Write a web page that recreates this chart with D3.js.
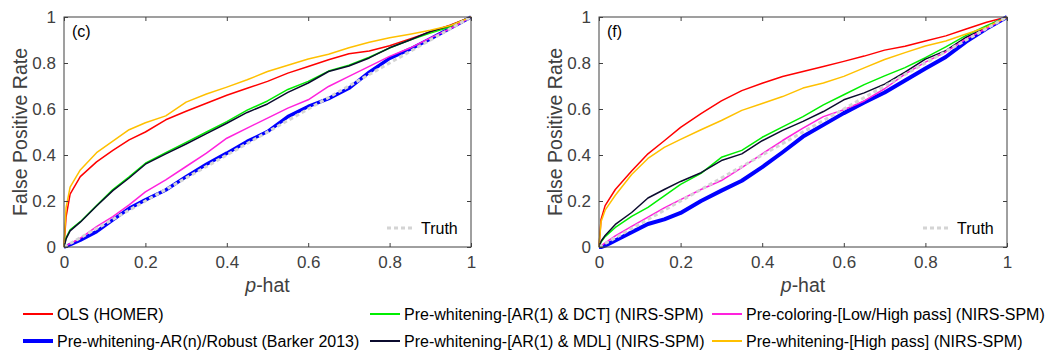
<!DOCTYPE html>
<html>
<head>
<meta charset="utf-8">
<script src="https://cdn.jsdelivr.net/npm/d3@7"></script>
<style>
  body { margin: 0; background: #fff; }
  svg { font-family: "Liberation Sans", Arial, sans-serif; }
</style>
</head>
<body>
<svg id="chart" width="1052" height="354"></svg>
<script>
// p-hat grid shared by all curves
const pHat = [0, 0.005, 0.015, 0.04, 0.08, 0.12, 0.16, 0.2, 0.25, 0.3, 0.35, 0.4, 0.45, 0.5, 0.55, 0.6, 0.65, 0.7, 0.75, 0.8, 0.85, 0.9, 0.95, 1];

// panel (c)
const cOLS      = [0, 0.13, 0.23, 0.306, 0.37, 0.42, 0.466, 0.50, 0.553, 0.59, 0.625, 0.66, 0.69, 0.72, 0.756, 0.785, 0.814, 0.84, 0.852, 0.875, 0.905, 0.935, 0.965, 1];
const cRobust   = [0, 0.003, 0.01, 0.03, 0.067, 0.118, 0.168, 0.205, 0.248, 0.306, 0.36, 0.408, 0.459, 0.502, 0.567, 0.611, 0.645, 0.69, 0.76, 0.82, 0.86, 0.905, 0.952, 1];
const cDCT      = [0, 0.04, 0.075, 0.11, 0.18, 0.25, 0.305, 0.364, 0.41, 0.455, 0.5, 0.545, 0.595, 0.635, 0.685, 0.72, 0.765, 0.79, 0.825, 0.865, 0.9, 0.93, 0.958, 1];
const cMDL      = [0, 0.035, 0.07, 0.108, 0.178, 0.245, 0.3, 0.36, 0.405, 0.448, 0.493, 0.538, 0.585, 0.622, 0.672, 0.713, 0.763, 0.787, 0.822, 0.866, 0.9, 0.937, 0.963, 1];
const cColoring = [0, 0.005, 0.015, 0.038, 0.089, 0.132, 0.183, 0.24, 0.292, 0.35, 0.408, 0.473, 0.517, 0.56, 0.604, 0.64, 0.698, 0.742, 0.785, 0.829, 0.865, 0.909, 0.95, 1];
const cHighPass = [0, 0.17, 0.26, 0.335, 0.41, 0.46, 0.51, 0.54, 0.57, 0.63, 0.665, 0.695, 0.727, 0.763, 0.79, 0.817, 0.838, 0.866, 0.89, 0.91, 0.925, 0.942, 0.963, 1];

// panel (f)
const fOLS      = [0, 0.12, 0.18, 0.25, 0.33, 0.405, 0.462, 0.52, 0.58, 0.635, 0.68, 0.712, 0.741, 0.763, 0.785, 0.807, 0.83, 0.856, 0.873, 0.896, 0.918, 0.948, 0.977, 1];
const fRobust   = [0, 0, 0.006, 0.028, 0.064, 0.1, 0.12, 0.148, 0.2, 0.245, 0.288, 0.347, 0.412, 0.48, 0.531, 0.582, 0.628, 0.672, 0.724, 0.776, 0.826, 0.893, 0.95, 1];
const fDCT      = [0, 0.022, 0.045, 0.085, 0.133, 0.172, 0.222, 0.272, 0.32, 0.39, 0.42, 0.477, 0.522, 0.567, 0.618, 0.662, 0.706, 0.744, 0.78, 0.823, 0.87, 0.92, 0.962, 1];
const fMDL      = [0, 0.025, 0.05, 0.098, 0.15, 0.213, 0.25, 0.285, 0.323, 0.376, 0.405, 0.462, 0.507, 0.546, 0.589, 0.64, 0.67, 0.708, 0.76, 0.817, 0.854, 0.912, 0.955, 1];
const fColoring = [0, 0.005, 0.018, 0.048, 0.09, 0.13, 0.17, 0.206, 0.25, 0.289, 0.345, 0.405, 0.463, 0.517, 0.567, 0.597, 0.635, 0.688, 0.752, 0.804, 0.848, 0.905, 0.95, 1];
const fHighPass = [0, 0.11, 0.16, 0.225, 0.315, 0.385, 0.433, 0.468, 0.51, 0.55, 0.594, 0.624, 0.654, 0.691, 0.713, 0.742, 0.779, 0.815, 0.845, 0.874, 0.896, 0.926, 0.956, 1];

const truthX = [0, 1];
const truthY = [0, 1];

const seriesNames = [
  "OLS (HOMER)",
  "Pre-whitening-AR(n)/Robust (Barker 2013)",
  "Pre-whitening-[AR(1) & DCT] (NIRS-SPM)",
  "Pre-whitening-[AR(1) & MDL] (NIRS-SPM)",
  "Pre-coloring-[Low/High pass] (NIRS-SPM)",
  "Pre-whitening-[High pass] (NIRS-SPM)"
];
const seriesColors = ["#ff0000", "#0000ff", "#00ee00", "#0b0b2e", "#ff22dd", "#ffc000"];
const tickValues = [0, 0.2, 0.4, 0.6, 0.8, 1];

const svg = d3.select("#chart");
const axisColor = "#404040";

function drawPanel(left, right, labelX, tag, curves, blueWidth) {
  const top = 17, bottom = 247;
  const x = d3.scaleLinear().domain([0, 1]).range([left, right]);
  const y = d3.scaleLinear().domain([0, 1]).range([bottom, top]);
  const g = svg.append("g");

  // curves
  const line = d3.line().x(d => x(d[0])).y(d => y(d[1]));
  curves.forEach(function (vals, i) {
    g.append("path")
      .attr("d", line(pHat.map((p, k) => [p, vals[k]])))
      .attr("fill", "none")
      .attr("stroke", seriesColors[i])
      .attr("stroke-width", i == 1 ? blueWidth : 1.5)
      .attr("stroke-linejoin", "round");
  });
  // truth diagonal on top
  g.append("path")
    .attr("d", line(truthX.map((p, k) => [p, truthY[k]])))
    .attr("fill", "none")
    .attr("stroke", "#d4d4d4")
    .attr("stroke-width", 3)
    .attr("stroke-dasharray", "4,3");

  // box + inside ticks (matlab style)
  g.append("rect")
    .attr("x", left).attr("y", top)
    .attr("width", right - left).attr("height", bottom - top)
    .attr("fill", "none").attr("stroke", axisColor).attr("stroke-width", 1);

  const ax = g.append("g").attr("transform", "translate(0," + bottom + ")")
    .call(d3.axisBottom(x).tickValues(tickValues).tickFormat(d3.format("~g")).tickSizeInner(-4).tickSizeOuter(0).tickPadding(9));
  const axTop = g.append("g").attr("transform", "translate(0," + top + ")")
    .call(d3.axisTop(x).tickValues(tickValues).tickFormat("").tickSizeInner(-4).tickSizeOuter(0));
  const ay = g.append("g").attr("transform", "translate(" + left + ",0)")
    .call(d3.axisLeft(y).tickValues(tickValues).tickFormat(d3.format("~g")).tickSizeInner(-4).tickSizeOuter(0).tickPadding(8));
  const ayR = g.append("g").attr("transform", "translate(" + right + ",0)")
    .call(d3.axisRight(y).tickValues(tickValues).tickFormat("").tickSizeInner(-4).tickSizeOuter(0));
  [ax, axTop, ay, ayR].forEach(function (a) {
    a.select(".domain").remove();
    a.selectAll("line").attr("stroke", axisColor);
    a.selectAll("text").attr("fill", axisColor).style("font-size", "17px")
      .style("font-family", "Liberation Sans, Arial, sans-serif");
  });

  // axis labels
  const xl = g.append("text")
    .attr("x", (left + right) / 2).attr("y", 292)
    .attr("text-anchor", "middle").attr("fill", axisColor)
    .style("font-size", "19.5px");
  xl.append("tspan").style("font-style", "italic").text("p");
  xl.append("tspan").text("-hat");

  g.append("text")
    .attr("transform", "translate(" + labelX + "," + ((top + bottom) / 2) + ") rotate(-90)")
    .attr("text-anchor", "middle").attr("fill", axisColor)
    .style("font-size", "19.5px")
    .text("False Positive Rate");

  // panel tag
  g.append("text")
    .attr("x", left + 8).attr("y", top + 20)
    .attr("fill", "#000").style("font-size", "16px")
    .text(tag);

  // truth legend
  g.append("line")
    .attr("x1", right - 84).attr("x2", right - 58)
    .attr("y1", 228).attr("y2", 228)
    .attr("stroke", "#d4d4d4").attr("stroke-width", 3)
    .attr("stroke-dasharray", "4,3");
  g.append("text")
    .attr("x", right - 50).attr("y", 234)
    .attr("fill", "#000").style("font-size", "16px")
    .text("Truth");
}

drawPanel(64, 471, 27, "(c)", [cOLS, cRobust, cDCT, cMDL, cColoring, cHighPass], 3.5);
drawPanel(599, 1007, 562, "(f)", [fOLS, fRobust, fDCT, fMDL, fColoring, fHighPass], 4);

// bottom legend, 3 columns x 2 rows
const legendCols = [23, 370, 712];
const legendRows = [314, 341];
const legendOrder = [0, 2, 4, 1, 3, 5];
legendOrder.forEach(function (s, k) {
  const lx = legendCols[k % 3];
  const ly = legendRows[Math.floor(k / 3)];
  svg.append("line")
    .attr("x1", lx).attr("x2", lx + 30)
    .attr("y1", ly).attr("y2", ly)
    .attr("stroke", seriesColors[s])
    .attr("stroke-width", s == 1 ? 4 : 2);
  svg.append("text")
    .attr("x", lx + 34).attr("y", ly + 6)
    .attr("fill", "#000").style("font-size", "16px")
    .text(seriesNames[s]);
});
</script>
</body>
</html>
